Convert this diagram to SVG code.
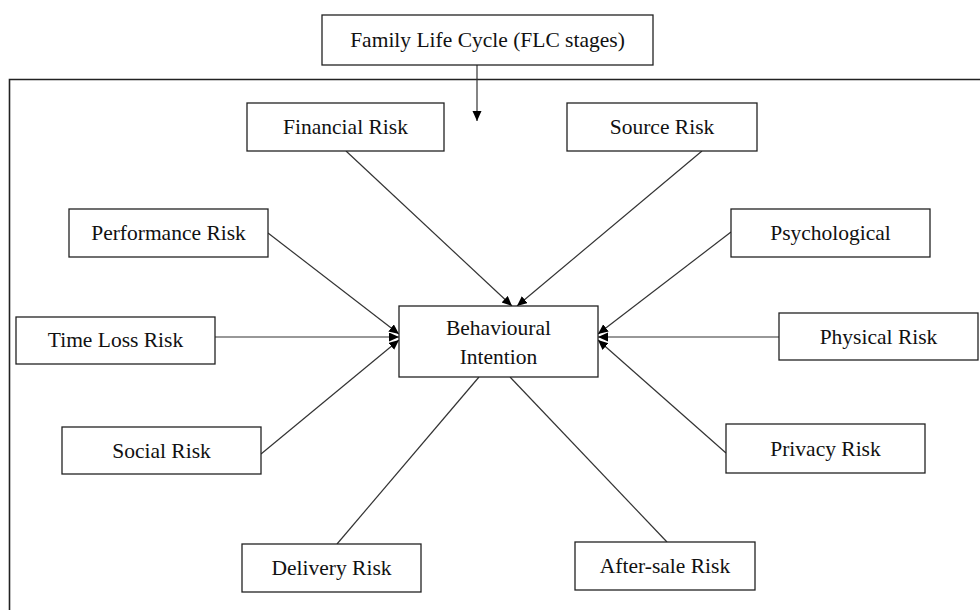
<svg xmlns="http://www.w3.org/2000/svg" width="980" height="610" viewBox="0 0 980 610">
<style>
.box{fill:#fff;stroke:#222;stroke-width:1.3}
.t{font-family:"Liberation Serif","Times New Roman",serif;font-size:21.5px;fill:#111;text-anchor:middle}
.c{stroke:#333;stroke-width:1.2;fill:none}
</style>
<defs>
<marker id="ah" markerUnits="userSpaceOnUse" markerWidth="12" markerHeight="10" refX="10" refY="4.5" orient="auto">
<path d="M0,0 L10,4.5 L0,9 Z" fill="#000"/>
</marker>
</defs>
<rect width="980" height="610" fill="#fff"/>
<path d="M9.5,610 V79.5 H980" fill="none" stroke="#222" stroke-width="1.6"/>
<g id="connectors">
<line class="c" x1="477" y1="65" x2="477" y2="121" marker-end="url(#ah)"/>
<line class="c" x1="346" y1="151" x2="512" y2="306" marker-end="url(#ah)"/>
<line class="c" x1="702" y1="151" x2="517" y2="306" marker-end="url(#ah)"/>
<line class="c" x1="268" y1="233" x2="399" y2="334" marker-end="url(#ah)"/>
<line class="c" x1="215" y1="337" x2="399" y2="337" marker-end="url(#ah)"/>
<line class="c" x1="261" y1="454" x2="399" y2="340" marker-end="url(#ah)"/>
<line class="c" x1="731" y1="232" x2="598" y2="334" marker-end="url(#ah)"/>
<line class="c" x1="779" y1="337" x2="598" y2="337" marker-end="url(#ah)"/>
<line class="c" x1="726" y1="453" x2="598" y2="340" marker-end="url(#ah)"/>
<line class="c" x1="337" y1="544" x2="479" y2="377"/>
<line class="c" x1="667" y1="542" x2="510" y2="377"/>
</g>
<g id="flc"><rect class="box" x="322" y="15" width="331" height="50"/><text class="t" x="487.5" y="47">Family Life Cycle (FLC stages)</text></g>
<g id="financial"><rect class="box" x="247" y="103" width="197" height="48"/><text class="t" x="345.5" y="134">Financial Risk</text></g>
<g id="source"><rect class="box" x="567" y="103" width="190" height="48"/><text class="t" x="662" y="134">Source Risk</text></g>
<g id="performance"><rect class="box" x="69" y="209" width="199" height="48"/><text class="t" x="168.5" y="240">Performance Risk</text></g>
<g id="psychological"><rect class="box" x="731" y="209" width="199" height="48"/><text class="t" x="830.5" y="240">Psychological</text></g>
<g id="timeloss"><rect class="box" x="16" y="317" width="199" height="47"/><text class="t" x="115.5" y="347">Time Loss Risk</text></g>
<g id="behavioural"><rect class="box" x="399" y="306" width="199" height="71"/><text class="t" x="498.5" y="335">Behavioural</text><text class="t" x="498.5" y="364">Intention</text></g>
<g id="physical"><rect class="box" x="779" y="313" width="199" height="47"/><text class="t" x="878.5" y="344">Physical Risk</text></g>
<g id="social"><rect class="box" x="62" y="427" width="199" height="47"/><text class="t" x="161.5" y="458">Social Risk</text></g>
<g id="privacy"><rect class="box" x="726" y="424" width="199" height="49"/><text class="t" x="825.5" y="456">Privacy Risk</text></g>
<g id="delivery"><rect class="box" x="242" y="544" width="179" height="48"/><text class="t" x="331.5" y="575">Delivery Risk</text></g>
<g id="aftersale"><rect class="box" x="575" y="542" width="180" height="48"/><text class="t" x="665" y="573">After-sale Risk</text></g>
</svg>
